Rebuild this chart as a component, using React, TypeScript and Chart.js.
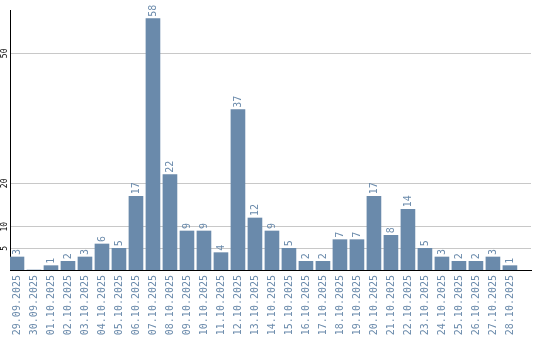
import React, { useEffect, useRef } from 'react';
import { Chart, registerables } from 'chart.js';

Chart.register(...registerables);

const dates = [
  '29.09.2025', '30.09.2025', '01.10.2025', '02.10.2025', '03.10.2025',
  '04.10.2025', '05.10.2025', '06.10.2025', '07.10.2025', '08.10.2025',
  '09.10.2025', '10.10.2025', '11.10.2025', '12.10.2025', '13.10.2025',
  '14.10.2025', '15.10.2025', '16.10.2025', '17.10.2025', '18.10.2025',
  '19.10.2025', '20.10.2025', '21.10.2025', '22.10.2025', '23.10.2025',
  '24.10.2025', '25.10.2025', '26.10.2025', '27.10.2025', '28.10.2025',
];
const counts = [3, 0, 1, 2, 3, 6, 5, 17, 58, 22, 9, 9, 4, 37, 12, 9, 5, 2, 2, 7, 7, 17, 8, 14, 5, 3, 2, 2, 3, 1];
const yTickValues = [5, 10, 20, 50];
const yMin = 0;
const yMax = 60;
const xMin = -0.41;
const xMax = 30.24;

const barColor = '#6a8aab';
const textColor = '#6a8aab';
const gridColor = '#c8c8c8';
const monoFont = '"DejaVu Sans Mono", monospace';

const valueLabelPlugin = {
  id: 'valueLabels',
  afterDatasetsDraw(chart: any) {
    const ctx = chart.ctx;
    const meta = chart.getDatasetMeta(0);
    ctx.save();
    ctx.fillStyle = textColor;
    ctx.font = `10px ${monoFont}`;
    ctx.textAlign = 'left';
    ctx.textBaseline = 'middle';
    meta.data.forEach((el: any, i: number) => {
      const v = counts[i];
      if (!v) return;
      ctx.save();
      ctx.translate(el.x, el.y - 2);
      ctx.rotate(-Math.PI / 2);
      ctx.fillText(String(v), 0, 0);
      ctx.restore();
    });
    ctx.restore();
  },
};

const yLabelPlugin = {
  id: 'yLabels',
  afterDraw(chart: any) {
    const ctx = chart.ctx;
    const scale = chart.scales.y;
    ctx.save();
    ctx.fillStyle = '#000';
    ctx.font = `8px ${monoFont}`;
    ctx.textAlign = 'center';
    ctx.textBaseline = 'middle';
    scale.ticks.forEach((t: any) => {
      const py = scale.getPixelForValue(t.value);
      ctx.save();
      ctx.translate(5, py);
      ctx.rotate(-Math.PI / 2);
      ctx.fillText(String(t.value), 0, 0);
      ctx.restore();
    });
    ctx.restore();
  },
};

export default function App() {
  const ref = useRef<HTMLCanvasElement | null>(null);
  useEffect(() => {
    if (!ref.current) return;
    const chart = new Chart(ref.current, {
      type: 'bar',
      data: {
        datasets: [
          {
            data: counts.map((v, i) => ({ x: i, y: v })),
            backgroundColor: barColor,
            borderWidth: 0,
            barThickness: 14,
          },
        ],
      },
      options: {
        animation: false,
        responsive: false,
        layout: { padding: { top: 10, right: 9, left: 0, bottom: 0 } },
        plugins: {
          legend: { display: false },
          tooltip: { enabled: false },
        },
        scales: {
          x: {
            type: 'linear',
            min: xMin,
            max: xMax,
            offset: false,
            afterBuildTicks(scale: any) {
              scale.ticks = dates.map((_, i) => ({ value: i }));
            },
            afterFit(scale: any) {
              scale.height = 70;
            },
            grid: { display: false, drawTicks: false },
            border: { display: true, color: '#000', width: 1 },
            ticks: {
              autoSkip: false,
              minRotation: 90,
              maxRotation: 90,
              padding: 5,
              color: textColor,
              font: { family: monoFont, size: 10 },
              callback: (value: any) => dates[Math.round(Number(value))] ?? '',
            },
          },
          y: {
            min: yMin,
            max: yMax,
            afterBuildTicks(scale: any) {
              scale.ticks = yTickValues.map((v) => ({ value: v }));
            },
            afterFit(scale: any) {
              scale.width = 10;
            },
            grid: { color: gridColor, drawTicks: false },
            border: { display: true, color: '#000', width: 1 },
            ticks: { display: false },
          },
        },
      } as any,
      plugins: [valueLabelPlugin, yLabelPlugin],
    });
    return () => chart.destroy();
  }, []);
  return (
    <div style={{ position: 'fixed', left: 0, top: 0, width: 540, height: 340, background: '#fff' }}>
      <canvas ref={ref} width={540} height={340} style={{ display: 'block' }} />
    </div>
  );
}
